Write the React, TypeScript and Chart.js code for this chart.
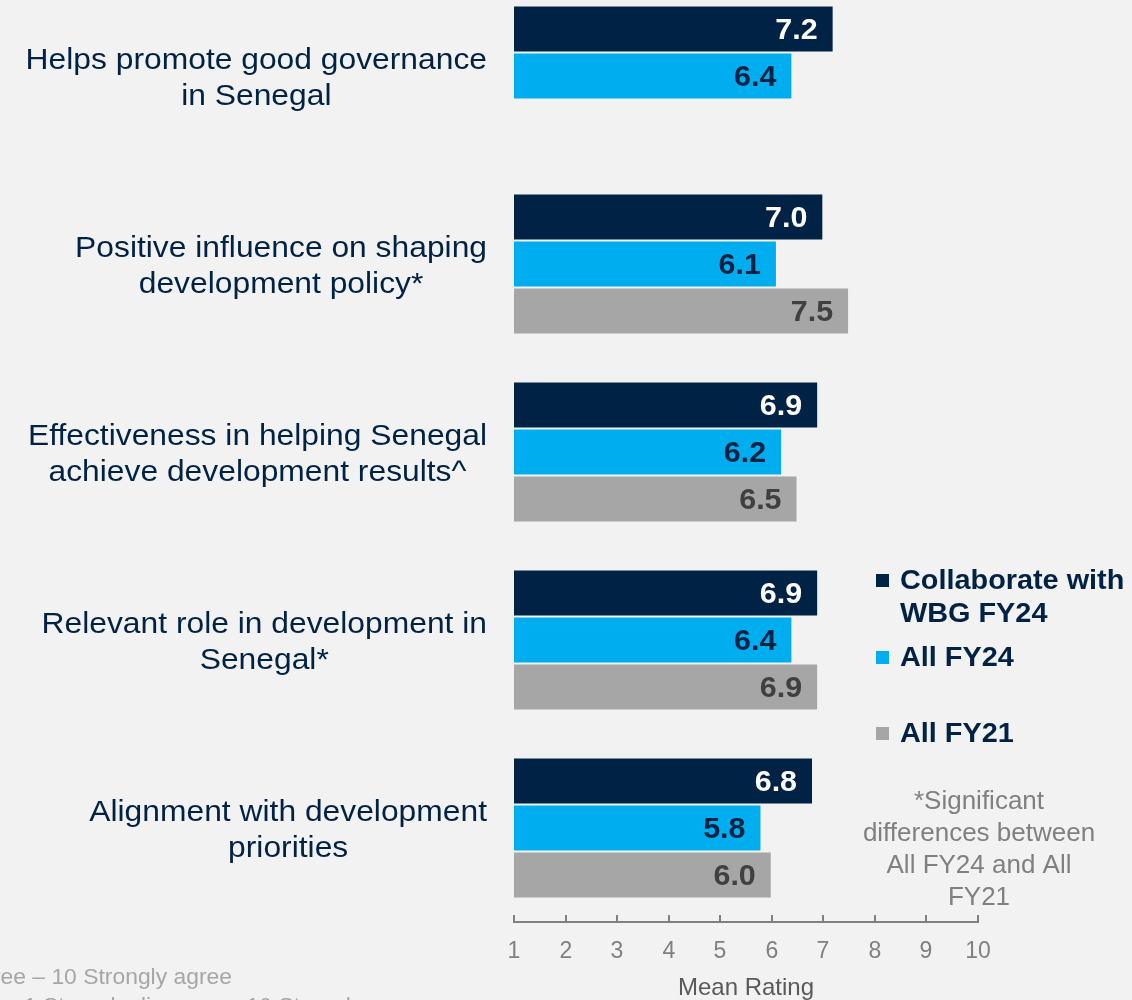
import React, { useEffect, useRef } from "react";
import { Chart, registerables } from "chart.js";

Chart.register(...registerables);

const FONT = '"Liberation Sans", Arial, Helvetica, sans-serif';

const categories: string[][] = [
  ["Helps promote good governance", "in Senegal"],
  ["Positive influence on shaping", "development policy*"],
  ["Effectiveness in helping Senegal", "achieve development results^"],
  ["Relevant role in development in", "Senegal*"],
  ["Alignment with development", "priorities"],
];

const seriesNames = ["Collaborate with WBG FY24", "All FY24", "All FY21"];
const legendLines: string[][] = [["Collaborate with", "WBG FY24"], ["All FY24"], ["All FY21"]];

const collaborateFY24 = [7.2, 7.0, 6.9, 6.9, 6.8];
const allFY24 = [6.4, 6.1, 6.2, 6.4, 5.8];
const allFY21: (number | null)[] = [null, 7.5, 6.5, 6.9, 6.0];

const xTicks = [1, 2, 3, 4, 5, 6, 7, 8, 9, 10];
const axisTitle = "Mean Rating";

const noteLines = ["*Significant", "differences between", "All FY24 and All", "FY21"];
const footLines = [
  "1 Strongly disagree – 10 Strongly agree",
  "1 Strongly disagree – 10 Strongly agree",
];

const barColors = ["#002244", "#00AEEF", "#A6A6A6"];
const valueColors = ["#FFFFFF", "#002244", "#404040"];
const navy = "#002244";
const BG = "#F2F2F2";
const OFF = 30; // canvas y = page y + OFF

function drawText(
  ctx: CanvasRenderingContext2D,
  text: string,
  x: number,
  y: number,
  size: number,
  bold: boolean,
  sx: number,
  align: CanvasTextAlign,
  color: string
) {
  ctx.save();
  ctx.font = `${bold ? "bold " : ""}${size}px ${FONT}`;
  ctx.fillStyle = color;
  ctx.textAlign = align;
  ctx.textBaseline = "middle";
  ctx.translate(x, y);
  ctx.scale(sx, 1);
  ctx.fillText(text, 0, 0);
  ctx.restore();
}

export default function App() {
  const ref = useRef<HTMLCanvasElement | null>(null);

  useEffect(() => {
    document.body.style.background = BG;
    const canvas = ref.current!;

    const bgPlugin = {
      id: "bg",
      beforeDraw(chart: any) {
        const ctx = chart.ctx;
        ctx.save();
        ctx.fillStyle = BG;
        ctx.fillRect(0, 0, chart.width, chart.height);
        ctx.restore();
      },
    };

    const decor = {
      id: "decor",
      afterDraw(chart: any) {
        const ctx = chart.ctx as CanvasRenderingContext2D;
        const xs = chart.scales.x;
        const ys = chart.scales.y;
        const area = chart.chartArea;
        ctx.save();
        // upward tick marks and tick labels
        ctx.strokeStyle = "#808080";
        ctx.lineWidth = 2;
        xTicks.forEach((v) => {
          const x = Math.round(xs.getPixelForValue(v));
          ctx.beginPath();
          ctx.moveTo(x, area.bottom);
          ctx.lineTo(x, area.bottom - 7);
          ctx.stroke();
          drawText(ctx, String(v), x, 952 + OFF, 23, false, 1.0, "center", "#808080");
        });

        // category labels
        const catSize = 30;
        const catSx = 1.06;
        ctx.font = `${catSize}px ${FONT}`;
        categories.forEach((lines, i) => {
          const y = ys.getPixelForTick(i) + 3;
          const w = Math.max(...lines.map((l) => ctx.measureText(l).width)) * catSx;
          const cx = 487 - w / 2;
          const lh = 36;
          lines.forEach((l, j) => {
            drawText(ctx, l, cx, y + (j - (lines.length - 1) / 2) * lh, catSize, false, catSx, "center", navy);
          });
        });

        // legend
        const legendY = [581, 658, 734];
        legendLines.forEach((lines, i) => {
          const y = legendY[i] + OFF;
          ctx.fillStyle = barColors[i];
          ctx.fillRect(876, y - 7, 13, 13);
          lines.forEach((l, j) => drawText(ctx, l, 900, y + j * 33, 28, true, 1.03, "left", navy));
        });

        // note
        noteLines.forEach((l, j) => drawText(ctx, l, 979, 802 + OFF + j * 32, 26, false, 1.0, "center", "#808080"));

        // footnote (clipped at left)
        drawText(ctx, footLines[0], 232, 978 + OFF, 22, false, 1.04, "right", "#A6A6A6");
        drawText(ctx, footLines[1], 24, 1007 + OFF, 22, false, 1.04, "left", "#A6A6A6");
        ctx.restore();
      },
    };

    const valueLabels = {
      id: "valueLabels",
      afterDatasetsDraw(chart: any) {
        const ctx = chart.ctx as CanvasRenderingContext2D;
        chart.data.datasets.forEach((ds: any, di: number) => {
          const meta = chart.getDatasetMeta(di);
          meta.data.forEach((el: any, i: number) => {
            const v = ds.data[i];
            if (v === null || v === undefined) return;
            drawText(ctx, v.toFixed(1), el.x - 16, el.y + 2, 29, true, 1.05, "right", valueColors[di]);
          });
        });
      },
    };

    const chart = new Chart(canvas, {
      type: "bar",
      data: {
        labels: categories.map((c) => c.join(" ")),
        datasets: [collaborateFY24, allFY24, allFY21].map((d, i) => ({
          label: seriesNames[i],
          data: d,
          backgroundColor: barColors[i],
          borderColor: "rgba(255,255,255,0.25)",
          borderWidth: 1,
          categoryPercentage: 0.75,
          barPercentage: 1,
        })),
      },
      options: {
        indexAxis: "y",
        animation: false,
        responsive: false,
        maintainAspectRatio: false,
        layout: { padding: { top: 12, right: 154, left: 0, bottom: 0 } },
        plugins: {
          legend: { display: false },
          tooltip: { enabled: false },
          title: { display: false },
        },
        scales: {
          x: {
            type: "linear",
            min: 1,
            max: 10,
            afterFit(scale: any) {
              scale.height = 78;
            },
            afterBuildTicks(scale: any) {
              scale.ticks = xTicks.map((v) => ({ value: v }));
            },
            ticks: { display: false },
            grid: { display: true, drawOnChartArea: false, drawTicks: false },
            border: { display: true, color: "#808080", width: 2 },
            title: {
              display: true,
              text: axisTitle,
              font: { family: FONT, size: 24 },
              color: "#595959",
              padding: { top: 0, bottom: -3 },
            },
          },
          y: {
            type: "category",
            afterFit(scale: any) {
              scale.width = 514;
            },
            ticks: { display: false },
            grid: { display: false },
            border: { display: false },
          },
        },
      } as any,
      plugins: [bgPlugin, valueLabels, decor],
    });
    return () => chart.destroy();
  }, []);

  return (
    <div style={{ position: "absolute", left: 0, top: -OFF, width: 1132, height: 1000 + OFF, overflow: "hidden" }}>
      <canvas ref={ref} width={1132} height={1000 + OFF} style={{ width: 1132, height: 1000 + OFF, display: "block" }} />
    </div>
  );
}
